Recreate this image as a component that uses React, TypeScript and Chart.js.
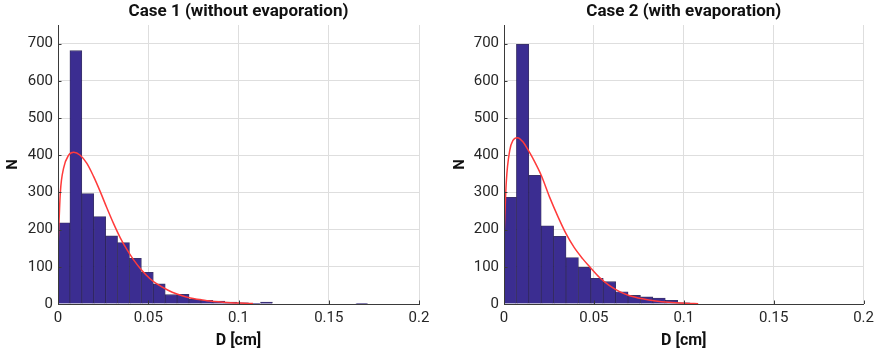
import React, { useEffect, useRef } from 'react';
import { Chart, registerables } from 'chart.js';

Chart.register(...registerables);

// ---------- data ----------
const TITLE_1 = 'Case 1 (without evaporation)';
const TITLE_2 = 'Case 2 (with evaporation)';
const X_LABEL = 'D [cm]';
const Y_LABEL = 'N';

const X_TICKS = [0, 0.05, 0.1, 0.15, 0.2];
const Y_TICKS = [0, 100, 200, 300, 400, 500, 600, 700];

// Case 1 histogram (bin width in cm, counts per bin starting at 0)
const BIN_WIDTH_1 = 0.0066;
const COUNTS_1 = [218, 681, 297, 235, 183, 165, 123, 85, 54, 25, 26, 13, 10, 8, 5, 3, 1, 5, 0, 0, 0, 0, 0, 0, 0, 2];
// Case 1 fitted curve
const CURVE_X_1 = [0, 0.0013, 0.0031, 0.0059, 0.0087, 0.0123, 0.016, 0.0197, 0.0234, 0.0271, 0.0308, 0.0345, 0.0382, 0.042, 0.0465, 0.051, 0.0548, 0.061, 0.0659, 0.0733, 0.0825, 0.0917, 0.101, 0.108];
const CURVE_Y_1 = [150, 300, 365, 400, 408, 400, 378, 343, 302, 258, 216, 178, 146, 118, 90, 68, 54, 37, 27, 16, 9, 5, 2.5, 1.2];

// Case 2 histogram
const BIN_WIDTH_2 = 0.0069;
const COUNTS_2 = [287, 698, 346, 210, 182, 125, 99, 69, 60, 33, 23, 19, 16, 10, 3];
// Case 2 fitted curve
const CURVE_X_2 = [0, 0.0013, 0.0032, 0.005, 0.0075, 0.0105, 0.0133, 0.016, 0.0207, 0.0253, 0.03, 0.0345, 0.039, 0.0437, 0.0475, 0.053, 0.0585, 0.064, 0.0695, 0.077, 0.0844, 0.0917, 0.101, 0.108];
const CURVE_Y_2 = [180, 330, 413, 440, 447, 436, 415, 392, 346, 288, 235, 189, 152, 122, 101, 72, 50, 34, 23, 14, 8, 4.5, 2, 1];

// ---------- styling ----------
const FONT = 'Roboto';
const TEXT = '#262626';
const AXIS = '#3a3a3a';
const GRID = '#dedede';
const BAR_FILL = 'rgb(59, 45, 145)';
const BAR_EDGE = 'rgba(25, 15, 70, 0.85)';
const CURVE = '#ff3a3a';

const inwardTicks = {
  id: 'inwardTicks',
  afterDraw(chart: any) {
    const { ctx, chartArea } = chart;
    const xs = chart.scales.x;
    const ys = chart.scales.y;
    ctx.save();
    ctx.strokeStyle = AXIS;
    ctx.lineWidth = 1;
    xs.ticks.forEach((t: any) => {
      const px = Math.round(xs.getPixelForValue(t.value)) + 0.5;
      ctx.beginPath();
      ctx.moveTo(px, chartArea.bottom);
      ctx.lineTo(px, chartArea.bottom - 3.5);
      ctx.stroke();
    });
    ys.ticks.forEach((t: any) => {
      const py = Math.round(ys.getPixelForValue(t.value)) + 0.5;
      ctx.beginPath();
      ctx.moveTo(chartArea.left, py);
      ctx.lineTo(chartArea.left + 3.5, py);
      ctx.stroke();
    });
    ctx.restore();
  },
};

function makeConfig(
  title: string,
  binWidth: number,
  counts: number[],
  cx: number[],
  cy: number[],
  yWidth: number,
  padRight: number,
  yTitlePad: number
): any {
  const bars = counts.map((c, i) => ({ x: (i + 0.5) * binWidth, y: c }));
  const curve = cx.map((x, i) => ({ x, y: cy[i] }));
  return {
    type: 'bar',
    data: {
      datasets: [
        {
          type: 'line',
          data: curve,
          borderColor: CURVE,
          borderWidth: 1.5,
          pointRadius: 0,
          fill: false,
          cubicInterpolationMode: 'monotone',
          order: 0,
        },
        {
          type: 'bar',
          data: bars,
          backgroundColor: BAR_FILL,
          borderColor: BAR_EDGE,
          borderWidth: 0.8,
          barPercentage: 1,
          categoryPercentage: 1,
          order: 1,
        },
      ],
    },
    options: {
      responsive: false,
      animation: false,
      devicePixelRatio: 1,
      layout: { padding: { left: 0, right: padRight, top: 0, bottom: 0 } },
      plugins: {
        legend: { display: false },
        tooltip: { enabled: false },
        title: {
          display: true,
          text: title,
          fullSize: false,
          color: '#111',
          font: { family: FONT, size: 17, weight: 'bold' },
          padding: { top: 2, bottom: 2.6 },
        },
      },
      scales: {
        x: {
          type: 'linear',
          min: 0,
          max: 0.2,
          offset: false,
          afterBuildTicks: (s: any) => {
            s.ticks = X_TICKS.map((v) => ({ value: v }));
          },
          afterFit: (s: any) => {
            s.height = 50;
          },
          grid: { color: GRID, drawTicks: false, offset: false, lineWidth: 1 },
          border: { color: AXIS, width: 1, z: 1 },
          ticks: {
            color: TEXT,
            font: { family: FONT, size: 15 },
            padding: 5,
            maxRotation: 0,
            autoSkip: false,
            callback: (v: any) => String(v),
          },
          title: {
            display: true,
            text: X_LABEL,
            color: '#111',
            font: { family: FONT, size: 16, weight: 'bold' },
            padding: { top: 0, bottom: 3 },
          },
        },
        y: {
          type: 'linear',
          min: 0,
          max: 750,
          afterBuildTicks: (s: any) => {
            s.ticks = Y_TICKS.map((v) => ({ value: v }));
          },
          afterFit: (s: any) => {
            s.width = yWidth;
          },
          grid: { color: GRID, drawTicks: false, lineWidth: 1 },
          border: { color: AXIS, width: 1, z: 1 },
          ticks: {
            color: TEXT,
            font: { family: FONT, size: 15 },
            padding: 5,
            callback: (v: any) => String(v),
          },
          title: {
            display: true,
            text: Y_LABEL,
            color: '#111',
            font: { family: FONT, size: 15, weight: 'bold' },
            padding: { top: yTitlePad, bottom: 0 },
          },
        },
      },
    },
    plugins: [inwardTicks],
  };
}

export default function App() {
  const ref1 = useRef<HTMLCanvasElement | null>(null);
  const ref2 = useRef<HTMLCanvasElement | null>(null);

  useEffect(() => {
    const c1 = new Chart(
      ref1.current as HTMLCanvasElement,
      makeConfig(TITLE_1, BIN_WIDTH_1, COUNTS_1, CURVE_X_1, CURVE_Y_1, 58, 21, 4)
    );
    const c2 = new Chart(
      ref2.current as HTMLCanvasElement,
      makeConfig(TITLE_2, BIN_WIDTH_2, COUNTS_2, CURVE_X_2, CURVE_Y_2, 64, 13, 11.6)
    );
    return () => {
      c1.destroy();
      c2.destroy();
    };
  }, []);

  return (
    <div style={{ position: 'absolute', left: 0, top: 0, width: 879, height: 354, background: '#fff' }}>
      <canvas ref={ref1} width={440} height={354} style={{ position: 'absolute', left: 0, top: 0 }} />
      <canvas ref={ref2} width={439} height={354} style={{ position: 'absolute', left: 440, top: 0 }} />
    </div>
  );
}
